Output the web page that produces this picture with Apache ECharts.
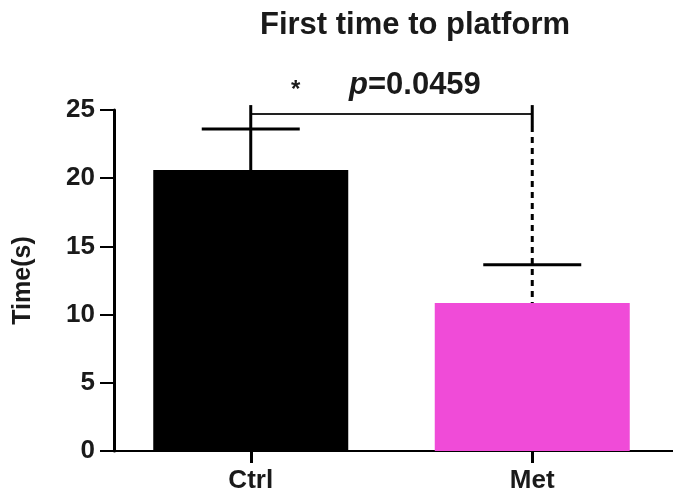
<!DOCTYPE html>
<html>
<head>
<meta charset="utf-8">
<script src="https://cdn.jsdelivr.net/npm/echarts@6/dist/echarts.min.js"></script>
<style>
html,body{margin:0;padding:0;background:#fff;}
#chart{width:673px;height:494px;}
</style>
</head>
<body>
<div id="chart"></div>
<script>
// ---- data ----
const categories = ['Ctrl', 'Met'];
const means = [20.6, 10.85];
const upperErrors = [3.0, 2.8];
const barColors = ['#000000', '#F04BD8'];
const yTicks = [0, 5, 10, 15, 20, 25];
const titleText = 'First time to platform';
const yAxisName = 'Time(s)';
const bracket = { from: 0, to: 1, y: 24.7 };
const starText = '*';
const pName = 'p';
const pValueText = '=0.0459';

const FONT = "'Liberation Sans', Arial, sans-serif";

const chart = echarts.init(document.getElementById('chart'), null, { renderer: 'canvas' });

const barData = means.map((v, i) => ({ value: v, itemStyle: { color: barColors[i] } }));
const errData = means.map((v, i) => [i, v, upperErrors[i]]);

const option = {
  animation: false,
  backgroundColor: '#ffffff',
  title: {
    text: titleText,
    left: 410,
    top: 5,
    textAlign: 'center',
    textStyle: { fontFamily: FONT, fontWeight: 'bold', fontSize: 31, color: '#1a1a1a' }
  },
  grid: { left: 110, top: 110, width: 574, bottom: 43, containLabel: false },
  xAxis: {
    type: 'category',
    data: categories,
    axisLine: { lineStyle: { color: '#000', width: 2 } },
    axisTick: { show: true, alignWithLabel: true, length: 12, lineStyle: { color: '#000', width: 3 } },
    axisLabel: { fontFamily: FONT, fontWeight: 'bold', fontSize: 26, color: '#1a1a1a', margin: 17 },
    splitLine: { show: false }
  },
  yAxis: {
    type: 'value',
    min: yTicks[0],
    max: yTicks[yTicks.length - 1],
    interval: yTicks[1] - yTicks[0],
    offset: -4,
    name: yAxisName,
    nameLocation: 'middle',
    nameRotate: 90,
    nameGap: 78,
    nameTextStyle: { fontFamily: FONT, fontWeight: 'bold', fontSize: 25, color: '#1a1a1a' },
    axisLine: { show: true, lineStyle: { color: '#000', width: 3 } },
    axisTick: { show: true, length: 14, lineStyle: { color: '#000', width: 2 } },
    axisLabel: { fontFamily: FONT, fontWeight: 'bold', fontSize: 26, color: '#1a1a1a', margin: 19 },
    splitLine: { show: false }
  },
  series: [
    {
      type: 'bar',
      data: barData,
      barWidth: 195,
      z: 2
    },
    {
      type: 'custom',
      z: 3,
      data: errData,
      renderItem: function (params, api) {
        const idx = api.value(0);
        const mean = api.value(1);
        const err = api.value(2);
        const base = api.coord([idx, mean]);
        const top = api.coord([idx, mean + err]);
        const half = 49;
        const children = [
          { type: 'line', shape: { x1: top[0] - half, y1: top[1], x2: top[0] + half, y2: top[1] },
            style: { stroke: '#000', lineWidth: 3 } }
        ];
        if (idx !== bracket.to) {
          children.push({ type: 'line', shape: { x1: base[0], y1: base[1], x2: top[0], y2: top[1] },
            style: { stroke: '#000', lineWidth: 3 } });
        }
        return { type: 'group', children: children };
      }
    },
    {
      type: 'custom',
      z: 4,
      data: [[bracket.from, bracket.to, bracket.y]],
      renderItem: function (params, api) {
        const a = api.value(0), b = api.value(1), y = api.value(2);
        const p1 = api.coord([a, y]);
        const p2 = api.coord([b, y]);
        const pBar = api.coord([b, means[b]]);
        const pErrA = api.coord([a, means[a] + upperErrors[a]]);
        return {
          type: 'group',
          children: [
            { type: 'line', shape: { x1: p1[0], y1: p1[1], x2: p2[0], y2: p2[1] },
              style: { stroke: '#222', lineWidth: 2 } },
            { type: 'line', shape: { x1: p1[0], y1: p1[1] - 9, x2: p1[0], y2: pErrA[1] },
              style: { stroke: '#000', lineWidth: 3 } },
            { type: 'line', shape: { x1: p2[0], y1: p2[1] - 9, x2: p2[0], y2: p2[1] + 12 },
              style: { stroke: '#000', lineWidth: 3 } },
            { type: 'line', shape: { x1: p2[0], y1: p2[1] + 12, x2: p2[0], y2: pBar[1] },
              style: { stroke: '#000', lineWidth: 3, lineDash: [6, 5] } }
          ]
        };
      }
    }
  ],
  graphic: [
    {
      type: 'text', left: 291, top: 78,
      style: { text: starText, fontFamily: FONT, fontWeight: 'bold', fontSize: 24, fill: '#1a1a1a' }
    },
    {
      type: 'text', left: 349, top: 70,
      style: {
        text: '{i|' + pName + '}{n|' + pValueText + '}',
        rich: {
          i: { fontFamily: FONT, fontWeight: 'bold', fontStyle: 'italic', fontSize: 31, fill: '#1a1a1a' },
          n: { fontFamily: FONT, fontWeight: 'bold', fontSize: 31, fill: '#1a1a1a' }
        }
      }
    }
  ]
};

chart.setOption(option);
</script>
</body>
</html>
